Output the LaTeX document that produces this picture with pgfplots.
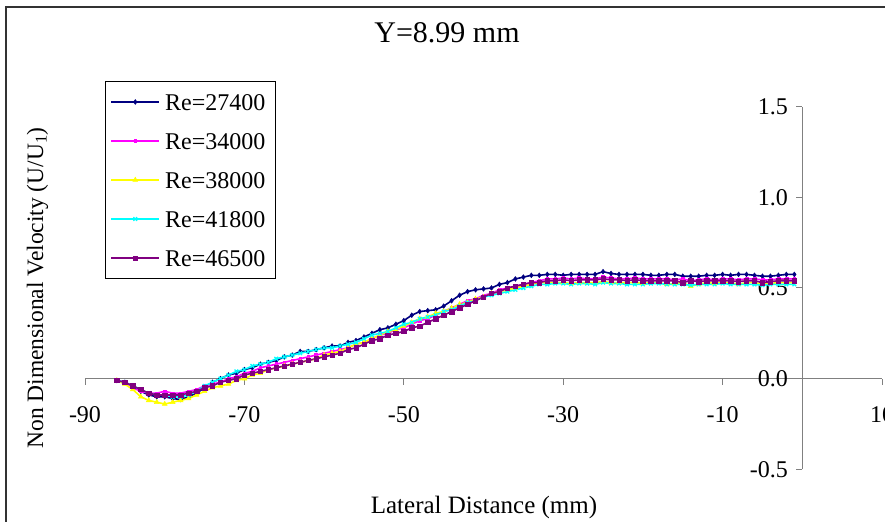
\documentclass[border=0pt]{standalone}
\usepackage{pgfplots}
\usepackage{pgfplotstable}
\pgfplotsset{compat=1.18}
\usepackage{fontspec}
\setmainfont{Liberation Serif}
\definecolor{cNavy}{HTML}{000080}
\definecolor{cMag}{HTML}{FF00FF}
\definecolor{cYel}{HTML}{FFFF00}
\definecolor{cCya}{HTML}{00FFFF}
\definecolor{cPur}{HTML}{800080}
\definecolor{axgray}{HTML}{808080}

\pgfplotstableread{
x a b c d e
-86 -0.01 -0.01 -0.01 -0.01 -0.01
-85 -0.02 -0.02 -0.03 -0.02 -0.02
-84 -0.04 -0.05 -0.06 -0.04 -0.04
-83 -0.07 -0.07 -0.10 -0.06 -0.06
-82 -0.09 -0.08 -0.12 -0.08 -0.08
-81 -0.10 -0.08 -0.13 -0.09 -0.09
-80 -0.10 -0.07 -0.14 -0.09 -0.09
-79 -0.11 -0.08 -0.13 -0.10 -0.09
-78 -0.115 -0.08 -0.12 -0.10 -0.09
-77 -0.10 -0.07 -0.11 -0.09 -0.08
-76 -0.08 -0.06 -0.09 -0.07 -0.07
-75 -0.05 -0.04 -0.07 -0.04 -0.05
-74 -0.02 -0.03 -0.05 -0.02 -0.04
-73 0.00 -0.02 -0.04 0.00 -0.02
-72 0.02 0.00 -0.03 0.02 -0.01
-71 0.03 0.01 -0.01 0.04 0.00
-70 0.05 0.03 0.00 0.05 0.02
-69 0.06 0.04 0.02 0.07 0.03
-68 0.08 0.06 0.03 0.08 0.04
-67 0.09 0.07 0.05 0.09 0.05
-66 0.10 0.08 0.06 0.11 0.06
-65 0.12 0.09 0.07 0.12 0.07
-64 0.13 0.10 0.08 0.13 0.08
-63 0.15 0.11 0.09 0.14 0.09
-62 0.15 0.12 0.10 0.15 0.10
-61 0.16 0.13 0.11 0.16 0.11
-60 0.17 0.14 0.13 0.17 0.12
-59 0.18 0.15 0.14 0.17 0.13
-58 0.18 0.16 0.15 0.18 0.14
-57 0.20 0.17 0.17 0.19 0.16
-56 0.21 0.19 0.19 0.20 0.17
-55 0.23 0.20 0.20 0.22 0.19
-54 0.25 0.22 0.22 0.24 0.21
-53 0.27 0.24 0.24 0.25 0.22
-52 0.28 0.25 0.26 0.26 0.24
-51 0.30 0.27 0.27 0.28 0.25
-50 0.32 0.28 0.29 0.30 0.26
-49 0.35 0.30 0.31 0.31 0.28
-48 0.37 0.32 0.33 0.33 0.29
-47 0.375 0.33 0.34 0.34 0.31
-46 0.38 0.35 0.36 0.35 0.33
-45 0.40 0.37 0.37 0.37 0.35
-44 0.43 0.39 0.39 0.38 0.37
-43 0.46 0.41 0.41 0.40 0.39
-42 0.48 0.43 0.42 0.42 0.41
-41 0.49 0.44 0.44 0.43 0.43
-40 0.495 0.46 0.45 0.45 0.45
-39 0.50 0.47 0.47 0.46 0.47
-38 0.52 0.49 0.48 0.47 0.48
-37 0.53 0.50 0.49 0.48 0.50
-36 0.55 0.51 0.50 0.49 0.51
-35 0.56 0.52 0.51 0.50 0.52
-34 0.57 0.53 0.52 0.51 0.53
-33 0.57 0.54 0.53 0.52 0.53
-32 0.575 0.55 0.53 0.52 0.54
-31 0.575 0.55 0.53 0.525 0.54
-30 0.57 0.555 0.53 0.525 0.545
-29 0.575 0.55 0.525 0.52 0.54
-28 0.575 0.555 0.53 0.525 0.545
-27 0.575 0.55 0.53 0.525 0.545
-26 0.575 0.55 0.53 0.52 0.545
-25 0.59 0.56 0.535 0.53 0.55
-24 0.58 0.555 0.53 0.525 0.545
-23 0.575 0.55 0.53 0.525 0.545
-22 0.575 0.55 0.53 0.52 0.54
-21 0.575 0.555 0.53 0.52 0.545
-20 0.575 0.55 0.525 0.52 0.54
-19 0.57 0.55 0.53 0.525 0.54
-18 0.57 0.55 0.53 0.525 0.54
-17 0.575 0.55 0.52 0.52 0.54
-16 0.575 0.545 0.525 0.52 0.54
-15 0.565 0.55 0.53 0.52 0.53
-14 0.565 0.54 0.51 0.515 0.54
-13 0.565 0.545 0.52 0.52 0.535
-12 0.57 0.55 0.53 0.52 0.54
-11 0.57 0.545 0.525 0.52 0.54
-10 0.575 0.55 0.53 0.525 0.54
-9 0.57 0.55 0.53 0.52 0.54
-8 0.575 0.545 0.52 0.52 0.535
-7 0.575 0.55 0.53 0.52 0.54
-6 0.57 0.55 0.53 0.52 0.54
-5 0.565 0.545 0.52 0.515 0.53
-4 0.565 0.545 0.525 0.52 0.535
-3 0.57 0.55 0.53 0.52 0.54
-2 0.575 0.55 0.53 0.52 0.54
-1 0.575 0.55 0.53 0.52 0.54
}\datatable

\begin{document}
\begin{tikzpicture}
\path[use as bounding box, clip] (0,0) rectangle (885bp,522bp);
\draw[line width=1.5bp, black!80] (6bp,-10bp) rectangle (900bp,515bp);
\begin{axis}[
  at={(85bp,52.7bp)}, anchor=south west,
  scale only axis, width=797bp, height=362.6bp,
  xmin=-90, xmax=10, ymin=-0.5, ymax=1.5,
  axis lines=middle,
  axis line style={draw=axgray, line width=1bp, -},
  xtick={-90,-70,-50,-30,-10,10},
  ytick={-0.5,0,0.5,1,1.5},
  hide obscured x ticks=false, hide obscured y ticks=false,
  tick align=outside, major tick length=6bp,
  tick style={draw=axgray, line width=1bp},
  ticklabel style={font=\fontsize{24bp}{28bp}\selectfont, text=black},
  xticklabel style={yshift=-18bp},
  /pgf/number format/assume math mode=true,
  yticklabel style={xshift=-5bp, /pgf/number format/fixed, /pgf/number format/fixed zerofill, /pgf/number format/precision=1},
  legend style={at={(0.0251,1.0709)}, anchor=north west, draw=black, line width=1bp,
    inner xsep=5bp, inner ysep=1bp, row sep=0bp,
    font=\fontsize{24bp}{28bp}\selectfont,
    nodes={inner xsep=5bp, inner ysep=11bp, text height=17bp, text depth=0bp}},
  legend cell align=left,
  legend image code/.code={\draw[mark repeat=2,mark phase=2] plot coordinates {(0bp,0bp) (24bp,0bp) (48bp,0bp)};},
  every axis plot/.append style={line width=1.6bp},
]
\addplot[color=cNavy, mark=diamond*, mark size=2.4bp, mark options={solid, line width=0.5bp}] table[x=x, y=a] {\datatable};
\addlegendentry{Re=27400}
\addplot[color=cMag, mark=square*, mark size=1.4bp, mark options={solid, line width=0.5bp}] table[x=x, y=b] {\datatable};
\addlegendentry{Re=34000}
\addplot[color=cYel, mark=triangle*, mark size=2.8bp, mark options={solid, line width=0.5bp}] table[x=x, y=c] {\datatable};
\addlegendentry{Re=38000}
\addplot[color=cCya, mark=x, mark size=2.6bp, mark options={solid, line width=1.3bp}] table[x=x, y=d] {\datatable};
\addlegendentry{Re=41800}
\addplot[color=cPur, mark=square*, mark size=2.2bp, mark options={solid, line width=0.5bp}] table[x=x, y=e] {\datatable};
\addlegendentry{Re=46500}
\end{axis}
\node[anchor=base, font=\fontsize{30bp}{36bp}\selectfont] at (447bp,479bp) {Y=8.99 mm};
\node[anchor=base, font=\fontsize{25bp}{30bp}\selectfont] at (484bp,9bp) {Lateral Distance (mm)};
\node[anchor=base, rotate=90, font=\fontsize{23.5bp}{28bp}\selectfont] at (43bp,234bp) {Non Dimensional Velocity (U/U\textsubscript{1})};
\end{tikzpicture}
\end{document}
